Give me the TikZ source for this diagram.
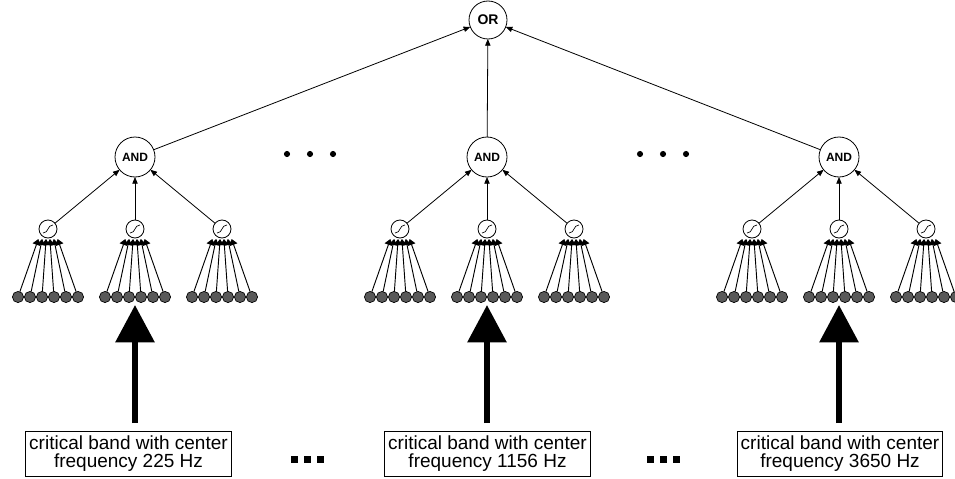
\documentclass[tikz,border=0pt]{standalone}
\usepackage{fontspec}
\setmainfont{Liberation Sans}
\usetikzlibrary{calc,arrows.meta}

\begin{document}
\begin{tikzpicture}[x=0.75pt,y=-0.75pt,
  gate/.style={circle,draw,fill=white,line width=0.6pt,inner sep=0pt,outer sep=0pt,
    minimum size=30pt,font=\bfseries\fontsize{9}{9}\selectfont},
  cell/.style={circle,draw,fill=white,line width=0.6pt,inner sep=0pt,outer sep=0pt,minimum size=13.5pt},
  inp/.style={circle,draw,fill=black!65,line width=0.5pt,inner sep=0pt,outer sep=0pt,minimum size=8.4pt},
  link/.style={line width=0.6pt,-{Triangle[length=5pt,width=4pt]}},
  fan/.style={line width=0.7pt,-{Triangle[length=4.5pt,width=6pt]}},
  bigarrow/.style={line width=4.5pt,-{Triangle[length=28pt,width=28.5pt]}},
  bandbox/.style={draw,line width=0.6pt,align=center,inner xsep=2.6pt,inner ysep=3.5pt,
    font=\fontsize{14.25}{13.5}\selectfont}]
  \clip (0,0) rectangle (955,478);

  % top gate
  \node[gate,minimum size=28.5pt,font=\bfseries\fontsize{10.5}{10.5}\selectfont] (or) at (488,20) {OR};

  % three channels: AND gate, three units, six inputs per unit
  \foreach \g/\gx in {1/135,2/487,3/839} {
    \node[gate] (and\g) at (\gx,157) {AND};
    \draw[link] (and\g) -- (or);
    \foreach \k/\dx in {1/-87,2/0,3/87} {
      \pgfmathsetmacro{\nx}{\gx+\dx}
      \node[cell] (n\g\k) at (\nx,229) {};
      \draw[link] (n\g\k) -- (and\g);
      % squashing curve inside the unit
      \draw[line width=0.5pt] (\nx-5,233) .. controls (\nx+1,233) and (\nx-1,225) .. (\nx+5,225);
      \foreach \i/\ox in {1/-30,2/-18,3/-6,4/6,5/18,6/30} {
        \node[inp] (x\g\k\i) at (\nx+\ox,297) {};
        \draw[fan] (x\g\k\i) -- ($(n\g\k.south)+(0.32*\ox,1)$);
      }
    }
  }

  % skipped channels
  \foreach \x in {287,310,333,640,663,686}
    \fill (\x,154) circle (2.3pt);

  % input bands
  \node[bandbox] (band1) at (128.5,454) {critical band with center\\frequency 225 Hz};
  \node[bandbox] (band2) at (487.5,454) {critical band with center\\frequency 1156 Hz};
  \node[bandbox] (band3) at (840,454) {critical band with center\\frequency 3650 Hz};
  \coordinate (tip1) at (135,305);
  \coordinate (tip2) at (487,305);
  \coordinate (tip3) at (839,305);
  \foreach \g in {1,2,3}
    \draw[bigarrow,shorten <=6pt] (band\g.north -| tip\g) -- (tip\g);

  % skipped bands
  \foreach \x in {294,307,320,650,663,676}
    \fill (\x-3,456) rectangle ++(6.5,6.5);
\end{tikzpicture}
\end{document}
